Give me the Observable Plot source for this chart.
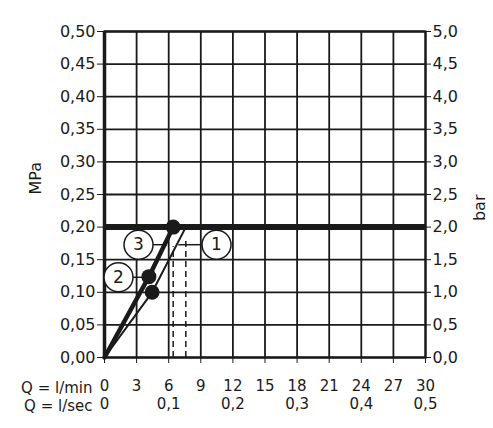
<!DOCTYPE html>
<html>
<head>
<meta charset="utf-8">
<script src="https://cdn.jsdelivr.net/npm/d3@7"></script>
<script src="https://cdn.jsdelivr.net/npm/@observablehq/plot@0.6"></script>
<style>
  html, body { margin: 0; padding: 0; background: #fff; }
  #chart svg { display: block; }
</style>
</head>
<body>
<div id="chart"></div>
<script>
// Flow (l/min) vs pressure (MPa)
const xTicksMin = [0, 3, 6, 9, 12, 15, 18, 21, 24, 27, 30];
const xTicksSec = [0, 6, 12, 18, 24, 30];
const yTicks = [0, 0.05, 0.10, 0.15, 0.20, 0.25, 0.30, 0.35, 0.40, 0.45, 0.50];

// curve 1 (thin)
const curve1 = [[0, 0], [4.45, 0.10], [7.6, 0.20]];
// curves 2/3 (thick)
const curve23 = [[0, 0], [4.15, 0.124], [6.42, 0.20]];
// operating points
const points = [[4.15, 0.124], [6.42, 0.20], [4.45, 0.10]];
// pressure limit
const limitPressure = 0.20;
// dashed drop lines: [flow, top pressure]
const dropLines = [[6.42, 0.17], [7.6, 0.18]];
// callout labels: [label, x, y]
const callouts = [["3", 3.18, 0.173], ["1", 10.47, 0.173], ["2", 1.31, 0.123]];
// leader lines: [x1, x2, y]
const leaders = [[4.6, 5.9, 0.173], [6.95, 9.1, 0.173], [2.6, 4.15, 0.123]];

const comma = s => s.replace(".", ",");
const font = "DejaVu Sans";

const chart = Plot.plot({
  width: 493,
  height: 428,
  marginLeft: 104,
  marginRight: 68,
  marginTop: 31,
  marginBottom: 71,
  style: {fontFamily: font, fontSize: "16px", color: "#1a1a1a", background: "#fff"},
  x: {domain: [0, 30]},
  y: {domain: [0, 0.5]},
  marks: [
    Plot.gridX(xTicksMin, {stroke: "#1a1a1a", strokeOpacity: 1, strokeWidth: 1.8}),
    Plot.gridY(yTicks, {stroke: "#1a1a1a", strokeOpacity: 1, strokeWidth: 1.8}),
    Plot.frame({stroke: "#1a1a1a", strokeWidth: 2.2}),
    Plot.ruleX([0], {stroke: "#1a1a1a", strokeWidth: 3.5}),
    Plot.axisY({ticks: yTicks, tickSize: 7, tickPadding: 2, tickFormat: d => comma(d.toFixed(2)), label: null}),
    Plot.axisY({anchor: "right", ticks: yTicks, tickSize: 5, tickPadding: 2, tickFormat: d => comma((d * 10).toFixed(1)), label: null}),
    Plot.axisX({ticks: xTicksMin, tickSize: 6, tickPadding: 17, fontSize: 15, tickFormat: d => String(d), label: null}),
    Plot.axisX({ticks: xTicksSec, tickSize: 0, tickPadding: 41, fontSize: 15, tickFormat: d => comma(String(+(d / 60).toFixed(1))), label: null}),
    Plot.text(["Q = l/min"], {x: 0, y: 0, text: d => d, textAnchor: "end", dx: -12, dy: 31, fontSize: 15}),
    Plot.text(["Q = l/sec"], {x: 0, y: 0, text: d => d, textAnchor: "end", dx: -12, dy: 49, fontSize: 15}),
    Plot.text(["MPa"], {frameAnchor: "left", text: d => d, dx: -69, rotate: -90, fontSize: 16}),
    Plot.text(["bar"], {frameAnchor: "right", text: d => d, dx: 54, rotate: -90, fontSize: 16}),
    Plot.ruleY([limitPressure], {stroke: "#1a1a1a", strokeWidth: 6}),
    Plot.ruleX(dropLines, {x: d => d[0], y1: 0, y2: d => d[1], stroke: "#1a1a1a", strokeWidth: 1.5, strokeDasharray: "6,4"}),
    Plot.line(curve1, {x: d => d[0], y: d => d[1], stroke: "#1a1a1a", strokeWidth: 2}),
    Plot.line(curve23, {x: d => d[0], y: d => d[1], stroke: "#1a1a1a", strokeWidth: 4.5}),
    Plot.ruleY(leaders, {x1: d => d[0], x2: d => d[1], y: d => d[2], stroke: "#1a1a1a", strokeWidth: 1.5}),
    Plot.dot(points, {x: d => d[0], y: d => d[1], r: 7.5, fill: "#1a1a1a", stroke: "none"}),
    Plot.dot(callouts, {x: d => d[1], y: d => d[2], r: 14.5, fill: "#fff", stroke: "#1a1a1a", strokeWidth: 1.5}),
    Plot.text(callouts, {x: d => d[1], y: d => d[2], text: d => d[0], fontSize: 17, fill: "#1a1a1a"})
  ]
});
document.getElementById("chart").appendChild(chart);
</script>
</body>
</html>
